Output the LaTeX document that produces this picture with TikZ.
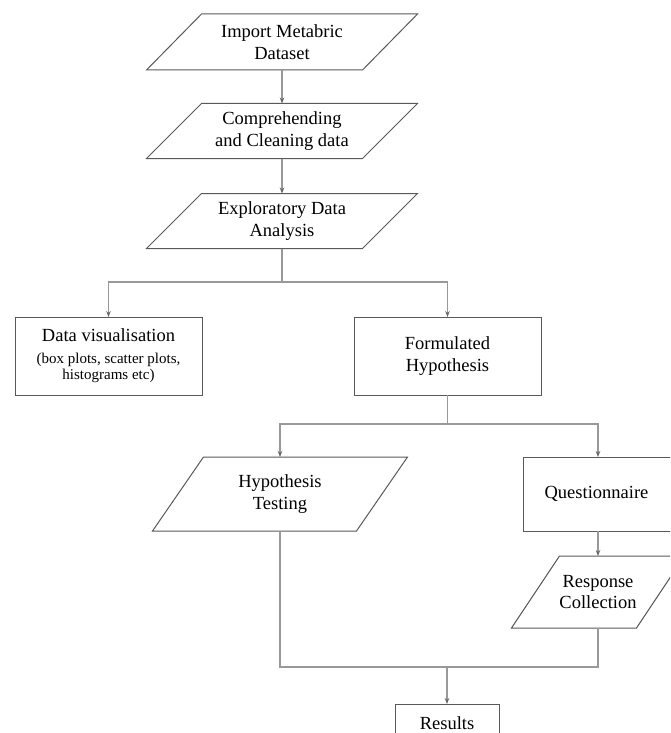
\documentclass[tikz,border=0pt]{standalone}
\usepackage{fontspec}
\setmainfont{Liberation Serif}
\usetikzlibrary{arrows.meta,calc}
\newcommand\parafig[4]{%
  \draw[shapeline] ($(#1.center)+({-#3-#4},#2)$) -- ($(#1.center)+({#3-#4},#2)$)
    -- ($(#1.center)+({#3+#4},-#2)$) -- ($(#1.center)+({-#3+#4},-#2)$) -- cycle;}
\begin{document}
\begin{tikzpicture}[x=1pt,y=-1pt,
  shapeline/.style={draw=black!65,line width=1pt},
  conn/.style={draw=black!40,line width=1.2pt},
  arr/.style={conn,-{Stealth[length=6pt,width=4.5pt,color=black!60]}},
  lbl/.style={align=center,inner sep=0pt,outer sep=0pt,font=\fontsize{18.5}{21.5}\selectfont},
  boxnode/.style={lbl,shapeline,fill=white},
]
\useasboundingbox (0,0) rectangle (670,733);
\clip (0,0) rectangle (670,733);

% parallelogram nodes
\node[lbl,minimum height=56] (a) at (282,42) {Import Metabric\\Dataset};
\parafig{a}{28}{108}{27.5}
\node[lbl,minimum height=55] (b) at (282,131) {Comprehending\\and Cleaning data};
\parafig{b}{27.5}{108}{27.5}
\node[lbl,minimum height=55] (c) at (282,221) {Exploratory Data\\Analysis};
\parafig{c}{27.5}{108}{27.5}

% boxes
\node[boxnode,minimum width=187,minimum height=78] (d) at (108.5,356)
  {Data visualisation\\\fontsize{15}{17}\selectfont (box plots, scatter plots,\\[-5pt]\fontsize{15}{17}\selectfont histograms etc)};
\node[boxnode,minimum width=187,minimum height=78] (e) at (447.5,356) {Formulated\\Hypothesis};

\node[lbl,minimum height=74] (f) at (280,494) {Hypothesis\\Testing};
\parafig{f}{37}{102}{25.5}
\node[boxnode,minimum width=150,minimum height=74] (g) at (598,494) {\hspace*{-3pt}Questionnaire};
\node[lbl,minimum height=72] (h) at (598,592) {Response\\Collection};
\parafig{h}{36}{62.5}{24}
\node[boxnode,minimum width=104,minimum height=38] (i) at (447,723) {Results};

% connectors
\draw[arr] (a.south) -- (b.north);
\draw[arr] (b.south) -- (c.north);
\coordinate (s1) at (282,282);
\draw[conn] (c.south) -- (s1);
\draw[arr] (s1) -| (d.north);
\draw[arr] (s1) -| (e.north);
\coordinate (s2) at (447.5,424);
\draw[conn] (e.south) -- (s2);
\draw[arr] (s2) -| (f.north);
\draw[arr] (s2) -| (g.north);
\draw[arr] (g.south) -- (h.north);
\coordinate (m) at (447,667);
\draw[conn] (f.south) |- (m);
\draw[conn] (h.south) |- (m);
\draw[arr] (m) -- (i.north);
\end{tikzpicture}
\end{document}
